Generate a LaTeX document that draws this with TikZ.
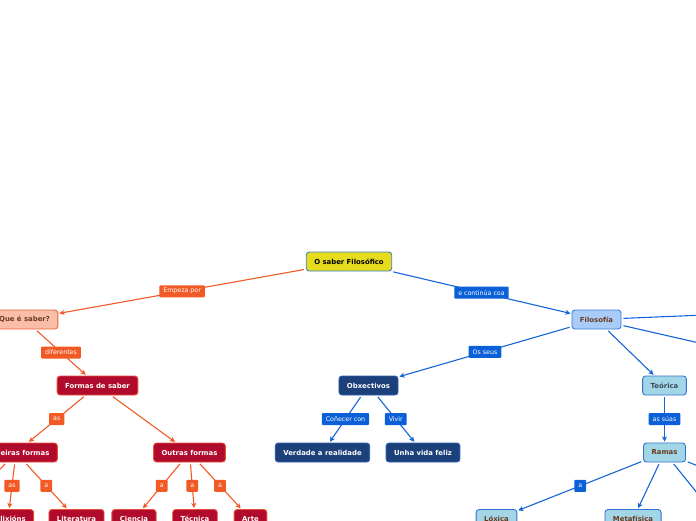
\documentclass[tikz,border=0pt]{standalone}
\usepackage{fontspec}
\setmainfont{DejaVu Sans}
\usetikzlibrary{arrows.meta}
\definecolor{oline}{HTML}{F15A24}
\definecolor{bline}{HTML}{1565D8}
\definecolor{olabf}{HTML}{F15A24}
\definecolor{blabf}{HTML}{0B5FD7}
\definecolor{rootf}{HTML}{E6DC1E}
\definecolor{rootd}{HTML}{3E7CC8}
\definecolor{quef}{HTML}{F9BDA8}
\definecolor{qued}{HTML}{F06030}
\definecolor{brownt}{HTML}{6B3A1F}
\definecolor{crimf}{HTML}{B00B2C}
\definecolor{crimd}{HTML}{E8503A}
\definecolor{filof}{HTML}{A9CBF7}
\definecolor{filod}{HTML}{3A7EDB}
\definecolor{navyf}{HTML}{1C4079}
\definecolor{navyd}{HTML}{2B5DB3}
\definecolor{cyanf}{HTML}{A2D6E6}
\definecolor{cyand}{HTML}{2F74D0}
\definecolor{slatet}{HTML}{3A4A5C}
\tikzset{
  box/.style={rounded corners=3pt, line width=0.9pt, minimum height=19pt, inner xsep=8pt, inner ysep=0pt,
    font=\fontsize{6.9}{8}\selectfont\bfseries},
  rootbox/.style={box, fill=rootf, draw=rootd, text=black},
  quebox/.style={box, fill=quef, draw=qued, text=brownt},
  crimbox/.style={box, fill=crimf, draw=crimd, text=white},
  filobox/.style={box, fill=filof, draw=filod, text=brownt},
  navybox/.style={box, fill=navyf, draw=navyd, text=white},
  cyanbox/.style={box, fill=cyanf, draw=cyand, text=brownt},
  lab/.style={rounded corners=1pt, minimum height=12pt, inner xsep=4pt, inner ysep=0pt, text=white,
    font=\fontsize{6.3}{7}\selectfont},
  olab/.style={lab, fill=olabf},
  blab/.style={lab, fill=blabf},
  conn/.style={line width=1.1pt, -{Stealth[length=5pt,width=5pt,inset=1.2pt]}, shorten <=2pt, shorten >=1pt},
  oconn/.style={conn, draw=oline},
  bconn/.style={conn, draw=bline},
}
\begin{document}
\begin{tikzpicture}[x=1pt,y=-1pt]
\useasboundingbox (0,0) rectangle (696,520);
\clip (0,0) rectangle (696,520);
% nodes
\node[rootbox] (root) at (349,261.5) {O saber Filosófico};
\node[quebox] (que) at (24.5,319.5) {Que é saber?};
\node[crimbox] (formas) at (97.5,385.5) {Formas de saber};
\node[crimbox] (prim) at (16,452.5) {Primeiras formas};
\node[crimbox] (outras) at (189.5,452.5) {Outras formas};
\node[crimbox] (relix) at (8,519) {Relixións};
\node[crimbox] (lit) at (76.5,519) {Literatura};
\node[crimbox] (cien) at (134,519) {Ciencia};
\node[crimbox] (tec) at (195,519) {Técnica};
\node[crimbox] (arte) at (250.5,519) {Arte};
\node[filobox] (filo) at (596.5,319.5) {Filosofía};
\node[navybox] (obx) at (368.5,385.5) {Obxectivos};
\node[navybox] (verd) at (322.5,452.5) {Verdade a realidade};
\node[navybox] (unha) at (423,452.5) {Unha vida feliz};
\node[cyanbox, text=slatet] (teo) at (664.5,385.5) {Teórica};
\node[cyanbox] (ramas) at (664.5,452.5) {Ramas};
\node[cyanbox] (lox) at (496.5,519) {Lóxica};
\node[cyanbox] (meta) at (633,519) {Metafísica};
% off-canvas ends
\coordinate (primoff) at (-20,490);
\coordinate (filooff1) at (800,311);
\coordinate (filooff2) at (800,366);
\coordinate (ramasoff1) at (729,532.5);
\coordinate (ramasoff2) at (800,507);
% orange connectors
\draw[oconn] (root) -- node[olab]{Empeza por} (que);
\draw[oconn] (que) -- node[olab]{diferentes} (formas);
\draw[oconn] (formas) -- node[olab]{as} (prim);
\draw[oconn] (formas) -- (outras);
\draw[oconn] (prim) -- node[olab]{as} (relix);
\draw[oconn] (prim) -- node[olab]{a} (lit);
\draw[oconn] (prim) -- (primoff);
\draw[oconn] (outras) -- node[olab]{a} (cien);
\draw[oconn] (outras) -- node[olab]{a} (tec);
\draw[oconn] (outras) -- node[olab]{a} (arte);
% blue connectors
\draw[bconn] (root) -- node[blab]{e continúa coa} (filo);
\draw[bconn] (filo) -- node[blab]{Os seus} (obx);
\draw[bconn] (filo) -- (teo);
\draw[bconn] (filo) -- (filooff1);
\draw[bconn] (filo) -- (filooff2);
\draw[bconn] (obx) -- node[blab]{Coñecer con} (verd);
\draw[bconn] (obx) -- node[blab]{Vivir} (unha);
\draw[bconn] (teo) -- node[blab]{as súas} (ramas);
\draw[bconn] (ramas) -- node[blab]{a} (lox);
\draw[bconn] (ramas) -- (meta);
\draw[bconn] (ramas) -- (ramasoff1);
\draw[bconn] (ramas) -- (ramasoff2);
\end{tikzpicture}
\end{document}
